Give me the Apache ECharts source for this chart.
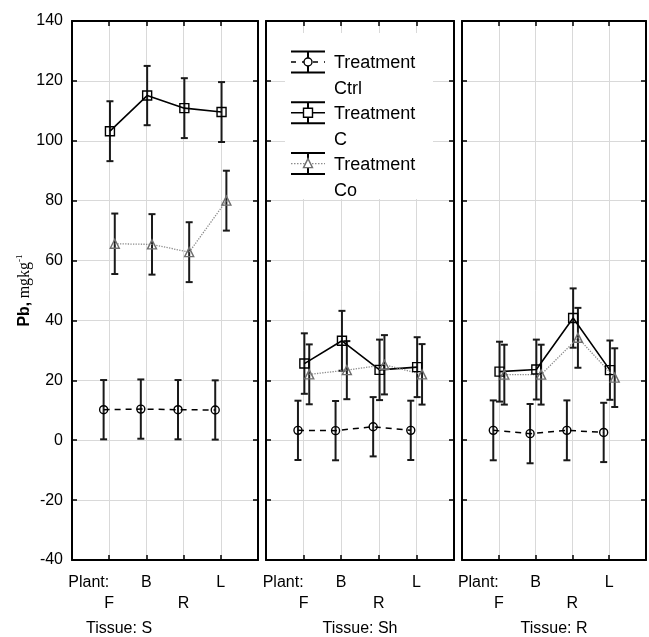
<!DOCTYPE html>
<html>
<head>
<meta charset="utf-8">
<script src="https://cdn.jsdelivr.net/npm/echarts@6/dist/echarts.min.js"></script>
<style>
  html, body { margin: 0; padding: 0; background: #fff; }
  #chart { width: 649px; height: 637px; }
</style>
</head>
<body>
<div id="chart"></div>
<script>
  // panels (tissue) and categories (plant)
  const tissues = ['S', 'Sh', 'R'];
  const plants = ['F', 'B', 'R', 'L'];
  const yMin = -40, yMax = 140, yStep = 20;

  // means and half error bars, one row per tissue
  const ctrlMean = [[10.2, 10.4, 10.2, 10.1], [3.3, 3.2, 4.5, 3.3], [3.3, 2.2, 3.3, 2.6]];
  const ctrlErr = [[9.9, 9.9, 9.9, 9.9], [9.9, 9.9, 9.9, 9.9], [10, 9.9, 10, 9.9]];
  const cMean = [[103.2, 115.1, 110.9, 109.6], [25.6, 33.2, 23.5, 24.4], [22.9, 23.6, 40.8, 23.4]];
  const cErr = [[10, 9.9, 10, 10], [10.1, 10, 10.1, 10], [10, 10, 9.9, 9.9]];
  const coMean = [[65.6, 65.4, 62.8, 80.0], [22.0, 23.4, 25.2, 22.0], [21.9, 21.9, 34.2, 20.9]];
  const coErr = [[10.1, 10.1, 10, 10], [10, 9.7, 9.9, 10.1], [10, 10, 10, 9.8]];

  const treatments = [
    {name: 'Ctrl', mean: ctrlMean, err: ctrlErr, shift: -0.15, symbol: 'circle', size: 8,
      line: {color: '#000', width: 1.5, type: [6, 5]}, edge: '#000'},
    {name: 'C', mean: cMean, err: cErr, shift: 0.02, symbol: 'rect', size: 9,
      line: {color: '#000', width: 1.6, type: 'solid'}, edge: '#000'},
    {name: 'Co', mean: coMean, err: coErr, shift: 0.15, symbol: 'triangle', size: 9,
      line: {color: '#8c8c8c', width: 1.3, type: 'dotted'}, edge: '#6e6e6e'}
  ];

  const font = 'Liberation Sans';
  const gridPos = [{left: 72, width: 186}, {left: 266, width: 188}, {left: 462, width: 184}];

  let myChart = echarts.init(document.getElementById('chart'), null, {renderer: 'canvas'});

  let grid = [], xAxis = [], yAxis = [], series = [];
  const labelStyle = {color: '#000', fontSize: 16, fontFamily: font};
  const border = {show: true, onZero: false, lineStyle: {color: '#000', width: 2}};
  const inTick = {show: true, inside: true, length: 5, lineStyle: {color: '#000', width: 1.5}};
  const hidden = {show: false, onZero: false};

  tissues.forEach(function (tissue, p) {
    grid.push({left: gridPos[p].left, width: gridPos[p].width, top: 21, height: 539,
      containLabel: false, outerBoundsMode: 'none'});

    const base = {type: 'value', gridIndex: p, min: 0, max: plants.length + 1, interval: 1};
    // bottom axis: ticks, vertical grid lines, first-row labels
    xAxis.push(Object.assign({}, base, {
      position: 'bottom',
      axisLine: border,
      axisTick: inTick,
      splitLine: {show: true, showMinLine: false, showMaxLine: false, lineStyle: {color: '#d9d9d9', width: 1}},
      axisLabel: Object.assign({}, labelStyle, {margin: 15, formatter: function (v) {
        return (v % 2 === 0 && v >= 1 && v <= plants.length) ? plants[v - 1] : '';
      }})
    }));
    // top border with ticks
    xAxis.push(Object.assign({}, base, {
      position: 'top',
      axisLine: border,
      axisTick: inTick,
      splitLine: {show: false},
      axisLabel: {show: false}
    }));
    // second-row labels and tissue name
    xAxis.push(Object.assign({}, base, {
      position: 'bottom',
      axisLine: hidden, axisTick: {show: false}, splitLine: {show: false},
      axisLabel: Object.assign({}, labelStyle, {margin: 36, formatter: function (v) {
        return (v % 2 === 1 && v <= plants.length) ? plants[v - 1] : '';
      }}),
      name: 'Tissue: ' + tissue,
      nameLocation: 'middle',
      nameGap: 61,
      nameTextStyle: Object.assign({}, labelStyle, p === 0 ? {padding: [0, 92, 0, 0]} : {})
    }));
    // "Plant:" label, right aligned on the first category
    xAxis.push(Object.assign({}, base, {
      position: 'bottom',
      axisLine: hidden, axisTick: {show: false}, splitLine: {show: false},
      axisLabel: Object.assign({}, labelStyle, {margin: 15, align: 'right', formatter: function (v) {
        return v === 1 ? 'Plant:' : '';
      }})
    }));

    yAxis.push({
      type: 'value', gridIndex: p, min: yMin, max: yMax, interval: yStep, position: 'left',
      axisLine: border,
      axisTick: inTick,
      splitLine: {show: true, showMinLine: false, showMaxLine: false, lineStyle: {color: '#d9d9d9', width: 1}},
      axisLabel: Object.assign({}, labelStyle, {show: p === 0, margin: 9}),
      name: p === 0 ? '{b|Pb,} {n|mgkg}{s|-1}' : '',
      nameLocation: 'middle',
      nameGap: 37,
      nameTextStyle: {
        rich: {
          b: {fontFamily: font, fontWeight: 'bold', fontSize: 16, color: '#000'},
          n: {fontFamily: 'Liberation Serif', fontSize: 16, color: '#000', lineHeight: 18},
          s: {fontFamily: 'Liberation Serif', fontSize: 9, color: '#000', verticalAlign: 'top'}
        }
      }
    });
    yAxis.push({
      type: 'value', gridIndex: p, min: yMin, max: yMax, interval: yStep, position: 'right',
      axisLine: border,
      axisTick: inTick,
      splitLine: {show: false},
      axisLabel: {show: false}
    });

    treatments.forEach(function (t) {
      const pts = plants.map(function (c, i) { return [i + 1 + t.shift, t.mean[p][i]]; });
      const bars = plants.map(function (c, i) {
        return [i + 1 + t.shift, t.mean[p][i] - t.err[p][i], t.mean[p][i] + t.err[p][i]];
      });
      // error bars
      series.push({
        type: 'custom', name: t.name, xAxisIndex: p * 4, yAxisIndex: p * 2, z: 3,
        data: bars,
        renderItem: function (params, api) {
          const top = api.coord([api.value(0), api.value(2)]);
          const bot = api.coord([api.value(0), api.value(1)]);
          const w = 3.5;
          const st = {stroke: '#1a1a1a', lineWidth: 2};
          return {type: 'group', children: [
            {type: 'line', shape: {x1: top[0], y1: top[1], x2: bot[0], y2: bot[1]}, style: st},
            {type: 'line', shape: {x1: top[0] - w, y1: top[1], x2: top[0] + w, y2: top[1]}, style: st},
            {type: 'line', shape: {x1: bot[0] - w, y1: bot[1], x2: bot[0] + w, y2: bot[1]}, style: st}
          ]};
        }
      });
      // means
      series.push({
        type: 'line', name: t.name, xAxisIndex: p * 4, yAxisIndex: p * 2, z: 4,
        data: pts,
        symbol: t.symbol, symbolSize: t.size,
        lineStyle: t.line,
        itemStyle: {color: 'rgba(255,255,255,0)', borderColor: t.edge, borderWidth: 1.4},
        emphasis: {disabled: true},
        animation: false
      });
    });
  });

  // legend box drawn inside the middle panel
  let legendItems = [{type: 'rect', z: 100, shape: {x: 285, y: 33, width: 148, height: 166}, style: {fill: '#fff'}}];
  treatments.forEach(function (t, k) {
    const cy = 62 + 50.8 * k, cx = 308;
    const st = {stroke: '#000', lineWidth: 2};
    legendItems.push(
      {type: 'line', z: 101, shape: {x1: 291, y1: cy - 10.5, x2: 325, y2: cy - 10.5}, style: st},
      {type: 'line', z: 101, shape: {x1: 291, y1: cy + 10.5, x2: 325, y2: cy + 10.5}, style: st},
      {type: 'line', z: 101, shape: {x1: cx, y1: cy - 10.5, x2: cx, y2: cy + 10.5}, style: st},
      {type: 'line', z: 101, shape: {x1: 291, y1: cy, x2: 325, y2: cy},
        style: {stroke: t.line.color, lineWidth: t.line.width,
          lineDash: t.line.type === 'solid' ? null : (t.line.type === 'dotted' ? [1.5, 1.5] : [5, 6])}}
    );
    const mk = {fill: '#fff', stroke: t.edge, lineWidth: 1.4};
    if (t.symbol === 'circle') {
      legendItems.push({type: 'circle', z: 102, shape: {cx: cx, cy: cy, r: 4}, style: mk});
    } else if (t.symbol === 'rect') {
      legendItems.push({type: 'rect', z: 102, shape: {x: cx - 4.5, y: cy - 4.5, width: 9, height: 9}, style: mk});
    } else {
      legendItems.push({type: 'polygon', z: 102, shape: {points: [[cx, cy - 5], [cx + 4.5, cy + 4], [cx - 4.5, cy + 4]]}, style: mk});
    }
    legendItems.push({type: 'text', z: 102, x: 334, y: cy - 12,
      style: {text: 'Treatment\n' + t.name, fill: '#000', font: '18px "Liberation Sans"', lineHeight: 26}});
  });

  let option = {
    backgroundColor: '#fff',
    animation: false,
    grid: grid,
    xAxis: xAxis,
    yAxis: yAxis,
    series: series,
    graphic: legendItems
  };
  myChart.setOption(option);
</script>
</body>
</html>
